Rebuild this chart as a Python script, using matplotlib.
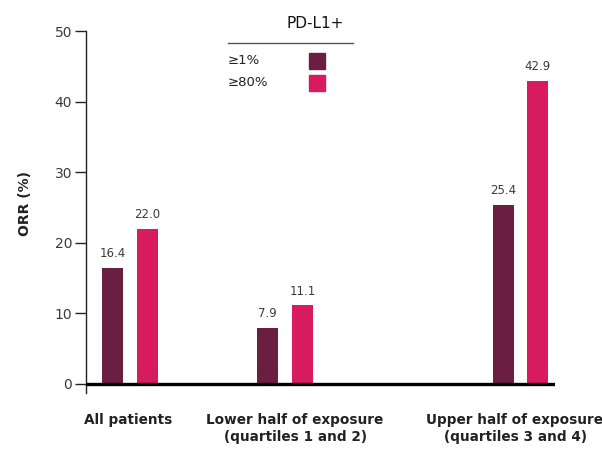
import matplotlib
matplotlib.use("Agg")
import matplotlib.pyplot as plt
from matplotlib.patches import Rectangle

# Objective response rate by exposure group and PD-L1 expression
groups = ["All patients", "Lower half of exposure\n(quartiles 1 and 2)",
          "Upper half of exposure\n(quartiles 3 and 4)"]
series_names = ["\u22651%", "\u226580%"]
orr_pdl1_1 = [16.4, 7.9, 25.4]
orr_pdl1_80 = [22.0, 11.1, 42.9]
yticks = [0, 10, 20, 30, 40, 50]

group_pos = [0.0, 1.0, 2.52]
colors = ["#6A1F42", "#D81B5E"]
bar_w = 0.135
offset = 0.112
text_col = "#3a3a3a"

fig = plt.figure(figsize=(6.02, 4.51), dpi=100)
W, H = 602, 451
ax = fig.add_axes([86 / W, 58 / H, (555 - 86) / W, (420 - 58) / H])

ymin = -1.32
ax.set_ylim(ymin, 50)
ax.set_xlim(-0.284, 2.742)

for vals, col, sgn in [(orr_pdl1_1, colors[0], -1), (orr_pdl1_80, colors[1], 1)]:
    xs = [p + sgn * offset for p in group_pos]
    ax.bar(xs, vals, width=bar_w, color=col, zorder=2)
    for x, v in zip(xs, vals):
        ax.text(x, v + 1.1, f"{v:.1f}", ha="center", va="bottom",
                fontsize=8.5, color=text_col)

# heavy baseline at zero
ax.axhline(0, color="black", linewidth=2.4, zorder=3)

for s in ["top", "right", "bottom"]:
    ax.spines[s].set_visible(False)
ax.spines["left"].set_color("#222222")
ax.spines["left"].set_linewidth(1.0)
ax.set_yticks(yticks)
ax.set_yticklabels([str(t) for t in yticks], fontsize=10, color=text_col)
ax.tick_params(axis="y", length=8, width=1.0, color="#222222", pad=2)
ax.set_xticks([])

ax.set_ylabel("ORR (%)", fontsize=10, fontweight="bold", color="#222222")
ax.yaxis.set_label_coords((32 - 86) / 469, (393 - 203) / 362)

# category labels below the axis
label_x = [128, 295, 515]
for lx, g in zip(label_x, groups):
    fig.text(lx / W, 1 - 413 / H, g, ha="center", va="top", fontsize=9.8,
             fontweight="bold", color="#222222", linespacing=1.25)

# custom legend block
fig.text(315 / W, 1 - 23 / H, "PD-L1+", ha="center", va="center",
         fontsize=11, color="#111111")
fig.add_artist(plt.Line2D([228 / W, 353 / W], [1 - 43 / H, 1 - 43 / H],
                          color="#555555", linewidth=1.0))
for i, (name, col) in enumerate(zip(series_names, colors)):
    yc = 61 + i * 22
    fig.text(228 / W, 1 - yc / H, name, ha="left", va="center",
             fontsize=9.5, color="#222222")
    fig.add_artist(Rectangle((309 / W, 1 - (yc + 8) / H), 16 / W, 16 / H,
                             transform=fig.transFigure, color=col))

fig.savefig("out.png", dpi=100)
